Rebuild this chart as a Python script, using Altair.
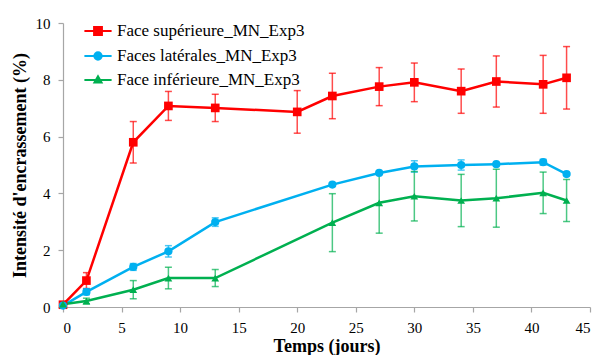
import altair as alt
import pandas as pd

series_names = ["Face supérieure_MN_Exp3", "Faces latérales_MN_Exp3", "Face inférieure_MN_Exp3"]
colors = ["#FF0000", "#00B0F0", "#00B050"]

days_sup = [0, 2, 6, 9, 13, 20, 23, 27, 30, 34, 37, 41, 43]
val_sup = [0.08, 0.93, 5.8, 7.08, 7.01, 6.87, 7.43, 7.76, 7.91, 7.6, 7.94, 7.84, 8.07]
err_sup = [0.05, 0.28, 0.73, 0.51, 0.48, 0.75, 0.8, 0.67, 0.68, 0.78, 0.9, 1.02, 1.1]

days_lat = [0, 2, 6, 9, 13, 23, 27, 30, 34, 37, 41, 43]
val_lat = [0.05, 0.53, 1.41, 1.96, 2.99, 4.31, 4.72, 4.95, 5.0, 5.03, 5.1, 4.68]
err_lat = [0.03, 0.1, 0.12, 0.2, 0.15, 0.05, 0.03, 0.2, 0.18, 0.03, 0.1, 0.04]

days_inf = [0, 2, 6, 9, 13, 23, 27, 30, 34, 37, 41, 43]
val_inf = [0.1, 0.21, 0.61, 1.02, 1.02, 2.97, 3.67, 3.9, 3.75, 3.83, 4.02, 3.75]
err_inf = [0.03, 0.1, 0.32, 0.38, 0.3, 1.02, 1.07, 0.87, 0.92, 1.02, 0.73, 0.74]

x_ticks = [0, 5, 10, 15, 20, 25, 30, 35, 40, 45]
y_ticks = [0, 2, 4, 6, 8, 10]

rows = []
for name, xs, ys, es in [
    (series_names[0], days_sup, val_sup, err_sup),
    (series_names[1], days_lat, val_lat, err_lat),
    (series_names[2], days_inf, val_inf, err_inf),
]:
    for x, y, e in zip(xs, ys, es):
        rows.append({"series": name, "lg": name, "jours": x, "val": y, "lo": y - e, "hi": y + e})
df = pd.DataFrame(rows)

XT = "Temps (jours)"
YT = "Intensité d'encrassement (%)"
xsc = alt.Scale(domain=[0, 45], nice=False, zero=False)
ysc = alt.Scale(domain=[0, 10], nice=False)
xaxis = alt.Axis(values=x_ticks, title=XT, titleY=44, titleBaseline="alphabetic")
yaxis = alt.Axis(values=y_ticks, title=YT)

color = alt.Color("series:N", scale=alt.Scale(domain=series_names, range=colors), legend=None)
X = alt.X("jours:Q", scale=xsc, axis=xaxis, title=XT)

base = alt.Chart(df)

rules = base.mark_rule(strokeWidth=1.5, opacity=0.7).encode(
    x=X, y=alt.Y("lo:Q", scale=ysc, axis=yaxis, title=YT), y2="hi:Q", color=color)
cap_lo = base.mark_tick(orient="horizontal", size=7, thickness=1.5, opacity=0.7).encode(
    x=X, y=alt.Y("lo:Q", scale=ysc, axis=yaxis, title=YT), color=color)
cap_hi = base.mark_tick(orient="horizontal", size=7, thickness=1.5, opacity=0.7).encode(
    x=X, y=alt.Y("hi:Q", scale=ysc, axis=yaxis, title=YT), color=color)
lines = base.mark_line(strokeWidth=2.5).encode(
    x=X, y=alt.Y("val:Q", scale=ysc, axis=yaxis, title=YT), color=color)
points = base.mark_point(filled=True, opacity=1).encode(
    x=X, y=alt.Y("val:Q", scale=ysc, axis=yaxis, title=YT), color=color,
    shape=alt.Shape("series:N", scale=alt.Scale(domain=series_names, range=["square", "circle", "triangle-up"]), legend=None),
    size=alt.Size("series:N", scale=alt.Scale(domain=series_names, range=[75, 60, 55]), legend=None),
)

leg_paths = [
    "M-1.6,0H1.6M-0.45,-0.45H0.45V0.45H-0.45ZM-0.3,-0.3H0.3V0.3H-0.3ZM-0.15,-0.15H0.15V0.15H-0.15Z",
    "M-1.6,0H1.6M0.42,0A0.42,0.42,0,1,1,-0.42,0A0.42,0.42,0,1,1,0.42,0M0.26,0A0.26,0.26,0,1,1,-0.26,0A0.26,0.26,0,1,1,0.26,0M0.1,0A0.1,0.1,0,1,1,-0.1,0A0.1,0.1,0,1,1,0.1,0",
    "M-1.6,0H1.6M0,-0.42L0.4,0.28H-0.4ZM0,-0.22L0.22,0.16H-0.22Z",
]
legend = alt.Legend(
    orient="none", legendX=25, legendY=-2, title=None, padding=0,
    labelFont="Liberation Serif", labelFontSize=17, labelColor="#000000", labelLimit=400,
    symbolSize=289, symbolStrokeWidth=2.2, symbolOpacity=1, labelOffset=9, rowPadding=6,
)
hidden = base.mark_point(filled=False, opacity=0).encode(
    x=X, y=alt.Y("val:Q", scale=ysc, axis=yaxis, title=YT),
    color=alt.Color("lg:N", scale=alt.Scale(domain=series_names, range=colors), legend=legend),
    shape=alt.Shape("lg:N", scale=alt.Scale(domain=series_names, range=leg_paths), legend=legend),
).transform_filter(alt.datum.jours == 0)

chart = alt.layer(rules, cap_lo, cap_hi, lines, points, hidden).resolve_scale(
    color="independent", shape="independent", size="independent"
).properties(
    width=527, height=284,
    autosize=alt.AutoSizeParams(type="none"),
    padding={"left": 55, "top": 15, "right": 3, "bottom": 48},
).configure_view(stroke=None).configure_axis(
    grid=False, domainColor="#A6A6A6", tickColor="#A6A6A6", domainWidth=1.2, tickWidth=1.2, tickSize=5,
    labelFont="Liberation Serif", labelFontSize=15, labelColor="#000000", labelPadding=8,
    titleFont="Liberation Serif", titleFontSize=18, titleFontWeight="bold", titleColor="#000000",
).configure_axisY(titlePadding=6)

chart.save("out.html", embed_options={"renderer": "svg", "actions": False})
